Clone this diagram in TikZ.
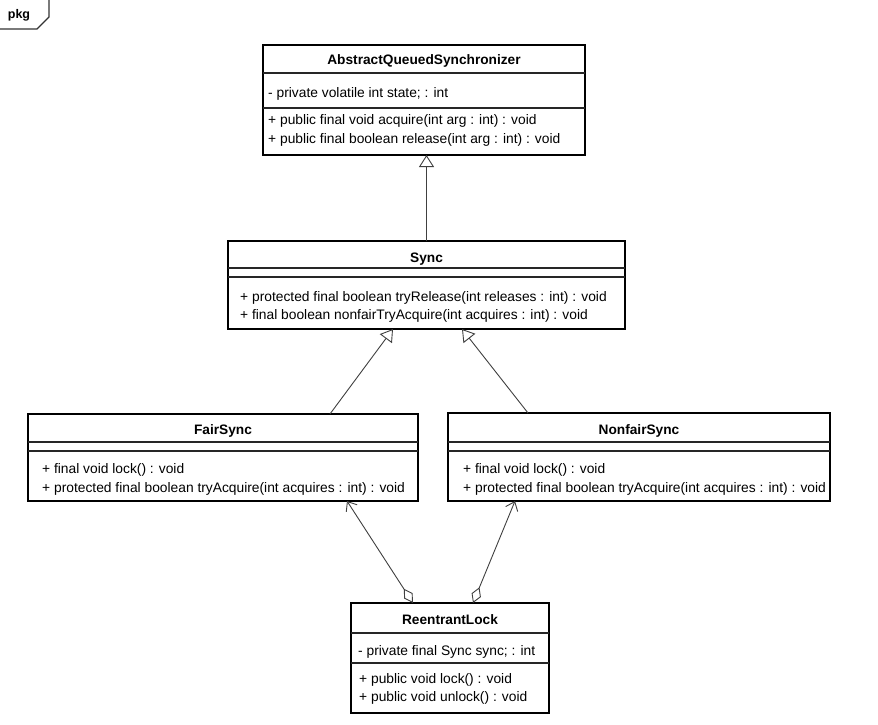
\documentclass[tikz,border=0pt]{standalone}
\usepackage{fontspec}
\setmainfont{Liberation Sans}
\usetikzlibrary{arrows.meta}
\newcommand{\membfont}{\fontsize{13.8}{16}\selectfont}
\newcommand{\ctitlefont}{\fontsize{13.7}{16}\selectfont\bfseries}
\begin{document}
\begin{tikzpicture}[x=1pt,y=-1pt,
  classbox/.style={draw=black, line width=1.8pt, inner sep=0pt, outer sep=0pt, anchor=north west},
  sepline/.style={line width=1.1pt, draw=black!85},
  member/.style={anchor=base west, inner sep=0pt, font=\membfont},
  ctitle/.style={anchor=base, inner sep=0pt, font=\ctitlefont},
  gen/.style={draw=black!75, line width=0.9pt, -{Triangle[open,length=12pt,width=15pt]}},
  assoc/.style={draw=black!75, line width=0.9pt, {Diamond[open,length=17pt,width=10pt]}-{Straight Barb[length=8pt,width=13pt]}},
  tab/.style={draw=black!80, line width=1.1pt}]
\useasboundingbox[fill=white] (0,0) rectangle (878,725);

% package tab
\draw[tab] (0,29) -- (37,29) -- (49,17) -- (49,0);
\node[anchor=base, inner sep=0pt, font=\fontsize{12.5}{14}\selectfont\bfseries] (pkg) at (19,19) {pkg};

% AbstractQueuedSynchronizer
\node[classbox, minimum width=322pt, minimum height=110pt] (aqs) at (263,45) {};
\draw[sepline] (263,73) -- (585,73);
\draw[sepline] (263,108) -- (585,108);
\node[ctitle] (aqsT) at (424,65) {AbstractQueuedSynchronizer};
\node[member] (aqsA) at (268,97) {- private volatile int state; : int};
\node[member] (aqsM1) at (268,124) {+ public final void acquire(int arg : int) : void};
\node[member] (aqsM2) at (268,143) {+ public final boolean release(int arg : int) : void};

% Sync
\node[classbox, minimum width=397pt, minimum height=88pt] (sync) at (228,241) {};
\draw[sepline] (228,268) -- (625,268);
\draw[sepline] (228,277) -- (625,277);
\node[ctitle] (syncT) at (426.5,262) {Sync};
\node[member] (syncM1) at (240,301) {+ protected final boolean tryRelease(int releases : int) : void};
\node[member] (syncM2) at (240,319) {+ final boolean nonfairTryAcquire(int acquires : int) : void};

% FairSync
\node[classbox, minimum width=390pt, minimum height=87pt] (fair) at (28,414) {};
\draw[sepline] (28,442) -- (418,442);
\draw[sepline] (28,451) -- (418,451);
\node[ctitle] (fairT) at (223,434) {FairSync};
\node[member] (fairM1) at (42,473) {+ final void lock() : void};
\node[member] (fairM2) at (42,492) {+ protected final boolean tryAcquire(int acquires : int) : void};

% NonfairSync
\node[classbox, minimum width=382pt, minimum height=88pt] (nonfair) at (448,413) {};
\draw[sepline] (448,442) -- (830,442);
\draw[sepline] (448,451) -- (830,451);
\node[ctitle] (nonfairT) at (639,434) {NonfairSync};
\node[member] (nonfairM1) at (463,473) {+ final void lock() : void};
\node[member] (nonfairM2) at (463,492) {+ protected final boolean tryAcquire(int acquires : int) : void};

% ReentrantLock
\node[classbox, minimum width=198pt, minimum height=110pt] (rl) at (351,603) {};
\draw[sepline] (351,633) -- (549,633);
\draw[sepline] (351,663) -- (549,663);
\node[ctitle] (rlT) at (450,624) {ReentrantLock};
\node[member] (rlA) at (358,655) {- private final Sync sync; : int};
\node[member] (rlM1) at (359,683) {+ public void lock() : void};
\node[member] (rlM2) at (359,701) {+ public void unlock() : void};

% generalizations
\draw[gen] (sync.north) -- (sync.north |- aqs.south);
\draw[gen] ([xshift=107pt]fair.north) -- ([xshift=-33.5pt]sync.south);
\draw[gen] ([xshift=-111pt]nonfair.north) -- ([xshift=35.5pt]sync.south);

% associations
\draw[assoc] ([xshift=-37pt]rl.north) -- ([xshift=124pt]fair.south);
\draw[assoc] ([xshift=23pt]rl.north) -- ([xshift=-124pt]nonfair.south);
\end{tikzpicture}
\end{document}
